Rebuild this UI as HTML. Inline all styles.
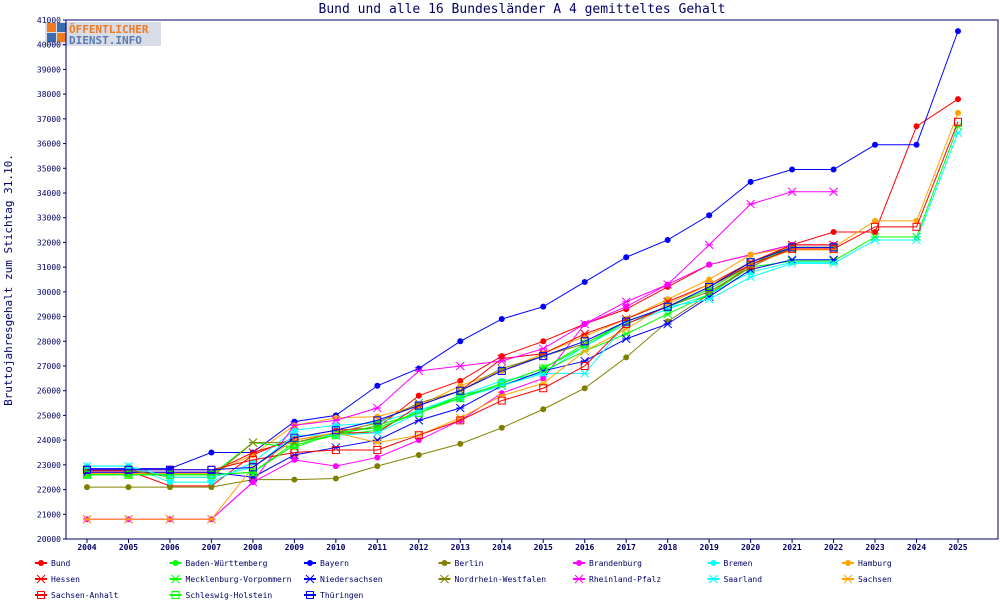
<!DOCTYPE html>
<html><head><meta charset="utf-8"><style>
body{margin:0;background:#fff;}
svg text{font-family:"DejaVu Sans Mono","Liberation Mono",monospace;fill:#000066;}
</style></head><body>
<svg id="chart" width="1000" height="600" xmlns="http://www.w3.org/2000/svg">
<rect x="0" y="0" width="1000" height="600" fill="#fff"/>
<text x="522" y="13" font-size="13" text-anchor="middle">Bund und alle 16 Bundesländer A 4 gemitteltes Gehalt</text>
<g>
<rect x="45" y="22" width="116" height="24" fill="#d8dce6"/>
<rect x="47" y="23" width="9" height="9" fill="#f07a20"/><rect x="57" y="23" width="9" height="9" fill="#3a6ab0"/>
<rect x="47" y="33" width="9" height="9" fill="#3a6ab0"/><rect x="57" y="33" width="9" height="9" fill="#f07a20"/>
<text x="69" y="33" font-size="11" font-weight="bold" style="fill:#f07a20">ÖFFENTLICHER</text>
<text x="69" y="44" font-size="11" font-weight="bold" style="fill:#5a7ab0">DIENST.INFO</text>
</g>
<text transform="translate(12,280) rotate(-90)" font-size="11" text-anchor="middle">Bruttojahresgehalt zum Stichtag 31.10.</text>
<rect x="66" y="20" width="932" height="519" fill="none" stroke="#000066" stroke-width="1"/>
<g id="axes"></g><g id="series"></g><g id="legend"></g>
</svg>
<script>
const years=[2004,2005,2006,2007,2008,2009,2010,2011,2012,2013,2014,2015,2016,2017,2018,2019,2020,2021,2022,2023,2024,2025];
const yTicks=[20000,21000,22000,23000,24000,25000,26000,27000,28000,29000,30000,31000,32000,33000,34000,35000,36000,37000,38000,39000,40000,41000];
const names=["Bund","Baden-Württemberg","Bayern","Berlin","Brandenburg","Bremen","Hamburg","Hessen","Mecklenburg-Vorpommern","Niedersachsen","Nordrhein-Westfalen","Rheinland-Pfalz","Saarland","Sachsen","Sachsen-Anhalt","Schleswig-Holstein","Thüringen"];
const colors=["#ff0000","#00ff00","#0000ff","#808000","#ff00ff","#00ffff","#ffa500","#ff0000","#00ff00","#0000ff","#808000","#ff00ff","#00ffff","#ffa500","#ff0000","#00ff00","#0000ff"];
const markers=["dot","dot","dot","dot","dot","dot","dot","x","x","x","x","x","x","x","sq","sq","sq"];
const sBund=[22760,22760,22150,22150,23400,24100,24400,24500,25800,26400,27400,28000,28700,29300,30200,31100,31500,31900,32420,32420,36700,37800];
const sBW=[22600,22600,22600,22600,22700,23900,24200,24400,25200,25700,26300,26900,27800,28800,29400,30100,31100,31800,31800,null,null,null];
const sBayern=[22850,22850,22850,23500,23500,24750,25000,26200,26900,28000,28900,29400,30400,31400,32100,33100,34450,34950,34950,35950,35950,40550];
const sBerlin=[22100,22100,22100,22100,22400,22400,22450,22950,23400,23850,24500,25250,26100,27350,28800,29900,31100,31900,31900,null,null,null];
const sBrandenburg=[20800,20800,20800,20800,22300,23200,22950,23300,24000,24800,25900,26500,28700,29400,30300,31100,31500,31900,31900,null,null,null];
const sBremen=[22950,22950,22300,22300,23100,24400,24600,24700,25200,25800,26400,26700,27800,28700,29300,29900,30800,31200,31200,null,null,null];
const sHamburg=[22650,22650,22650,22650,23400,24600,24900,24950,25400,26200,26800,27500,28200,28900,29700,30500,31500,31800,31800,32870,32870,37240];
const sHessen=[22700,22700,22700,22700,23500,24000,24300,24300,25400,26000,27300,27500,28300,28900,29600,30300,31200,31900,31900,null,null,null];
const sMV=[22600,22600,22600,22600,23900,23700,24300,24500,25100,25800,26200,26800,27600,28300,29100,29900,31000,31250,31250,32220,32220,36700];
const sNds=[22700,22700,22700,22700,22500,23400,23700,24000,24800,25300,26200,26800,27200,28100,28700,29800,30900,31300,31300,null,null,null];
const sNRW=[22800,22800,22500,22500,23900,23900,24300,24700,25500,26000,26900,27400,27900,28800,29400,30000,31000,31800,31800,null,null,null];
const sRP=[20800,20800,20800,20800,22300,24600,24800,25300,26800,27000,27200,27700,28700,29600,30300,31900,33550,34050,34050,null,null,null];
const sSaarland=[22950,22950,22500,22500,22900,24200,24200,24300,25100,25700,26200,26700,26700,28700,29400,29700,30600,31150,31150,32100,32100,36430];
const sSachsen=[20800,20800,20800,20800,22900,24000,24300,23900,24200,24900,25800,26300,27600,28500,29500,30300,31100,31700,31700,null,null,null];
const sSA=[22800,22800,22800,22800,23200,23500,23600,23600,24200,24800,25600,26100,27000,28700,29400,30200,31100,31740,31740,32630,32630,36880];
const sSH=[22600,22600,22600,22600,22700,23800,24200,24600,25100,25700,26300,26900,27900,28800,29400,30200,31200,31800,31800,null,null,null];
const sTH=[22800,22800,22800,22800,22900,24100,24400,24800,25400,26000,26800,27400,28000,28800,29400,30200,31200,31800,31800,null,null,null];
const series=[sBund,sBW,sBayern,sBerlin,sBrandenburg,sBremen,sHamburg,sHessen,sMV,sNds,sNRW,sRP,sSaarland,sSachsen,sSA,sSH,sTH];

const NS="http://www.w3.org/2000/svg";
const X0=66,X1=998,Y0=539,Y1=20,VMIN=20000,VMAX=41000;
function xScale(i){return 87+i*(958-87)/(years.length-1);}
function yScale(v){return Y0-(v-VMIN)/(VMAX-VMIN)*(Y0-Y1);}
function mk(tag,attrs,parent){const e=document.createElementNS(NS,tag);for(const k in attrs)e.setAttribute(k,attrs[k]);parent.appendChild(e);return e;}
const axes=document.getElementById('axes');
yTicks.forEach(v=>{const y=yScale(v);
 mk('line',{x1:X0-3,x2:X0,y1:y,y2:y,stroke:'#000066'},axes);
 const t=mk('text',{x:X0-5,y:y+3,'font-size':'8','text-anchor':'end'},axes);t.textContent=v;
 
 });
years.forEach((yr,i)=>{const x=xScale(i);
 mk('line',{x1:x,x2:x,y1:Y0,y2:Y0+4,stroke:'#000066'},axes);
 const t=mk('text',{x:x,y:550,'font-size':'8','text-anchor':'middle','font-weight':'bold'},axes);t.textContent=yr;
 
 });
function marker(type,x,y,c,parent){
 if(type==='dot'){mk('circle',{cx:x,cy:y,r:3,fill:c},parent);}
 else if(type==='x'){mk('path',{d:`M${x-4} ${y-4}L${x+4} ${y+4}M${x-4} ${y+4}L${x+4} ${y-4}M${x-4} ${y}L${x+4} ${y}`,stroke:c,'stroke-width':1,fill:'none'},parent);}
 else {mk('rect',{x:x-3.5,y:y-3.5,width:7,height:7,fill:'none',stroke:c,'stroke-width':1},parent);}
}
const sg=document.getElementById('series');
series.forEach((s,k)=>{
 const g=mk('g',{},sg);
 
 
 let d='';let pen=false;
 s.forEach((v,i)=>{if(v==null){pen=false;return;}d+=(pen?'L':'M')+xScale(i)+' '+yScale(v);pen=true;});
 mk('path',{d:d,fill:'none',stroke:colors[k],'stroke-width':1},g);
 s.forEach((v,i)=>{if(v!=null)marker(markers[k],xScale(i),yScale(v),colors[k],g);});
});
const lg=document.getElementById('legend');
names.forEach((n,k)=>{
 const col=k%7,row=Math.floor(k/7);
 const x=36+col*134.5,y=563+row*16;
 const g=mk('g',{},lg);
 
 
 mk('line',{x1:x-1,x2:x+11,y1:y,y2:y,stroke:colors[k],'stroke-width':2},g);
 marker(markers[k],x+5,y,colors[k],g);
 const t=mk('text',{x:x+15,y:y+3,'font-size':'8'},g);t.textContent=n;
});
</script>
</body></html>
